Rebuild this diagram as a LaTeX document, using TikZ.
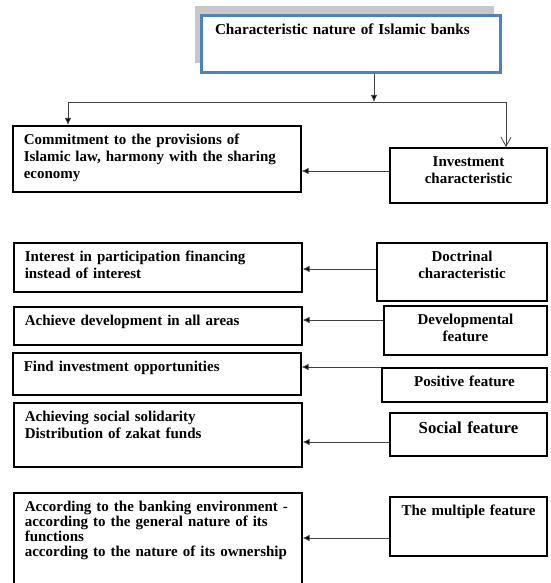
\documentclass[tikz,border=0pt]{standalone}
\usepackage{fontspec}
\setmainfont{Liberation Serif}
\usepackage{tikz}
\usetikzlibrary{arrows.meta, positioning, shadows}
\definecolor{boxblue}{HTML}{4F81BD}

\begin{document}
\begin{tikzpicture}[
    x=1pt, y=1pt,
    lbox/.style={rectangle, draw, line width=1.6pt, anchor=north west, align=left, text width=266pt, inner xsep=11pt, inner ysep=0pt, text height=19pt, font=\bfseries\fontsize{15}{17}\selectfont},
    rbox/.style={rectangle, draw, line width=1.6pt, anchor=north east, align=center, inner xsep=6pt, inner ysep=0pt, text height=19pt, font=\bfseries\fontsize{15}{17}\selectfont},
    topbox/.style={rectangle, draw=boxblue, line width=3pt, fill=white, anchor=north west, align=left, text width=272pt, inner xsep=13.5pt, inner ysep=0pt, text height=19.5pt, text depth=37.5pt, font=\bfseries\fontsize{15.2}{17}\selectfont, drop shadow={shadow xshift=-7pt, shadow yshift=9pt, fill=black!22, opacity=1}},
    line/.style={line width=0.8pt, draw=black!75},
    arrow/.style={line, -{Latex[length=7pt,width=6.5pt,fill=black]}},
    openarrow/.style={line, -{Straight Barb[length=9pt,width=10pt]}}
]
    \path[use as bounding box, fill=white] (0,0) rectangle (550,-583);

    % Head
    \node[topbox] (top) at (200,-14) {Characteristic nature of Islamic banks};

    % Left column
    \node[lbox, text depth=47.4pt] (commit) at (12,-125) {Commitment to the provisions of\\Islamic law, harmony with the sharing\\economy};
    \node[lbox, text depth=30.4pt] (interest) at (13,-242) {Interest in participation financing\\instead of interest};
    \node[lbox, text depth=19.4pt] (achieve) at (13,-306) {Achieve development in all areas};
    \node[lbox, text depth=23.4pt] (find) at (12,-352) {Find investment opportunities};
    \node[lbox, text depth=45.4pt] (solidarity) at (13,-402) {Achieving social solidarity\\Distribution of zakat funds};
    \node[lbox, text depth=74.4pt, font=\bfseries\fontsize{15}{15}\selectfont] (according) at (13,-492) {According to the banking environment -\\according to the general nature of its\\functions\\according to the nature of its ownership};

    % Right column
    \node[rbox, text width=145.4pt, text depth=36.4pt] (invest) at (548,-147) {Investment\\characteristic};
    \node[rbox, text width=158.4pt, text depth=39.4pt] (doctrinal) at (548,-242) {Doctrinal\\characteristic};
    \node[rbox, text width=151.4pt, text depth=30.4pt] (develop) at (548,-305) {Developmental\\feature};
    \node[rbox, text width=153.4pt, text depth=15.4pt] (positive) at (548,-367) {Positive feature};
    \node[rbox, text width=145.4pt, text height=21pt, text depth=22.4pt, font=\bfseries\fontsize{16.8}{19}\selectfont] (social) at (548,-412) {Social feature};
    \node[rbox, text width=145.4pt, text depth=40.4pt] (multiple) at (548,-496) {The multiple feature};

    % Split under the head
    \coordinate (fork) at (374,-102);
    \coordinate (forkL) at (68,-102);
    \coordinate (forkR) at (506,-102);
    \draw[arrow] (fork |- top.south) -- (fork);
    \draw[line] (forkL) -- (forkR);
    \draw[arrow] (forkL) -- (forkL |- commit.north);
    \draw[openarrow] (forkR) -- (forkR |- invest.north);

    % Arrows
    \draw[arrow] (invest.west |- 0,-171) -- (commit.east |- 0,-171);
    \draw[arrow] (doctrinal.west |- 0,-269) -- (interest.east |- 0,-269);
    \draw[arrow] (develop.west |- 0,-320) -- (achieve.east |- 0,-320);
    \draw[arrow] (positive.west |- 0,-367) -- (find.east |- 0,-367);
    \draw[arrow] (social.west |- 0,-442) -- (solidarity.east |- 0,-442);
    \draw[arrow] (multiple.west |- 0,-538) -- (according.east |- 0,-538);
\end{tikzpicture}
\end{document}
